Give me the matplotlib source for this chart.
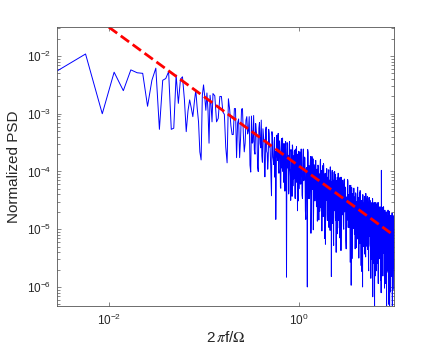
import matplotlib
matplotlib.use('Agg')
import matplotlib.pyplot as plt
import numpy as np
from matplotlib.ticker import FixedLocator, LogLocator, NullLocator, NullFormatter

plt.rcParams['font.family'] = ['Liberation Sans', 'DejaVu Sans']
plt.rcParams['mathtext.fontset'] = 'stix'
plt.rcParams['axes.unicode_minus'] = False

df = 2.84e-3  # frequency step, 2*pi*f/Omega

# log10 of the normalized PSD
# k = 1 .. 44
psd_log_a = [-2.26, -1.965, -3.00, -2.28, -2.60, -2.24, -2.29, -2.30, -2.87, -2.42,
             -2.21, -3.27, -2.42, -2.39, -2.27, -3.27, -3.25, -2.33, -2.82, -2.40,
             -2.36, -2.75, -3.31, -2.95, -2.76, -2.90, -3.05, -2.80, -2.59, -2.90,
             -3.14, -3.66, -3.80, -2.68, -2.50, -2.70, -2.94, -2.64, -2.94, -3.51,
             -2.68, -2.85, -3.14, -2.65]
# k = 46, 50, 54, ...
psd_log_b = [-2.69, -3.08, -2.70, -3.01, -3.85, -2.93, -3.36, -2.91, -3.76, -3.09,
             -3.42, -2.91, -3.66, -3.11, -3.35, -3.05, -4.01, -3.51, -3.03, -3.70,
             -3.31, -3.93, -3.25, -3.51, -3.11, -3.84, -3.38, -4.09, -3.28, -3.65,
             -3.96, -3.27, -3.58, -3.84, -4.42, -3.39, -3.80, -3.49, -4.10, -4.83,
             -3.40, -3.75, -3.34, -4.03, -3.61, -4.27, -3.53, -3.94, -3.42, -3.80,
             -4.19, -3.52, -4.03, -3.62, -5.83, -3.50, -3.94, -3.72, -4.33, -3.48,
             -3.99, -4.50, -3.66, -3.89, -3.54, -4.25, -3.73, -4.09, -3.63, -4.45,
             -3.84, -4.19, -3.57, -4.03, -4.68, -3.71, -3.95, -4.30, -3.71]
# k = 48, 52, 56, ...
psd_log_b2 = [-3.14, -2.70, -2.97, -3.58, -2.74, -3.21, -3.36, -2.91, -3.16, -3.76,
              -2.92, -3.37, -3.51, -3.05, -3.30, -3.89, -3.04, -3.49, -3.63, -3.17,
              -3.41, -4.00, -3.15, -3.59, -3.73, -3.26, -3.51, -4.09, -3.23, -3.68,
              -3.81, -3.34, -3.58, -4.16, -3.31, -3.75, -3.88, -3.41, -3.65, -4.23,
              -3.37, -3.81, -3.94, -3.47, -3.71, -4.29, -3.43, -3.87, -4.00, -3.52,
              -3.76, -4.34, -3.48, -3.92, -4.05, -3.57, -3.81, -4.39, -3.53, -3.96,
              -4.09, -3.62, -3.86, -4.43, -3.57, -4.01, -4.13, -3.66, -3.90, -4.47,
              -3.61, -4.05, -4.17, -3.70, -3.93, -4.51, -3.65, -4.08, -4.21]
# k = 362, 370, 378, ...
psd_log_c = [-3.66, -4.22, -3.82, -4.47, -3.61, -4.12, -3.77, -4.83, -3.93, -6.00,
             -3.67, -4.12, -4.47, -3.87, -5.07, -4.01, -4.31, -3.78, -4.66, -4.11,
             -4.51, -3.81, -4.31, -3.99, -4.86, -3.89, -4.44, -4.04, -4.69, -3.82,
             -4.33, -3.98, -5.03, -4.13, -4.53, -3.86, -4.31, -4.66, -4.06, -5.26,
             -4.20, -4.50, -3.97, -4.85, -4.30, -4.67, -3.97, -4.47, -4.15, -5.02,
             -4.05, -4.60, -5.82, -4.85, -3.98, -4.48, -4.13, -5.18, -4.28, -4.68,
             -4.00, -4.45, -4.80, -4.20, -5.40, -4.33, -4.63, -4.10, -4.98, -4.43,
             -4.80, -4.10, -4.60, -4.28, -5.15, -4.17, -4.72, -4.32, -4.97, -4.10]
# k = 366, 374, 382, ...
psd_log_c2 = [-4.01, -3.61, -4.41, -3.76, -4.16, -3.75, -4.67, -3.95, -4.32, -3.62,
              -4.47, -3.90, -4.22, -3.74, -4.62, -3.74, -4.21, -5.01, -3.88, -4.11,
              -4.21, -3.81, -4.61, -3.96, -4.36, -3.92, -4.84, -4.12, -4.49, -3.79,
              -4.63, -4.06, -4.38, -3.90, -4.78, -3.89, -4.36, -5.16, -4.03, -4.26,
              -4.35, -3.95, -4.75, -4.10, -4.50, -4.05, -4.97, -4.25, -4.62, -3.92,
              -4.75, -4.18, -4.50, -4.02, -4.90, -4.01, -4.48, -5.28, -4.15, -4.38,
              -4.45, -4.05, -4.85, -4.20, -4.60, -4.16, -5.08, -4.36, -4.73, -4.03,
              -4.85, -4.28, -4.60, -4.12, -5.00, -4.10, -4.57, -5.37, -4.24, -4.47]
# k = 1002, 1018, 1034, ...
psd_log_d = [-4.20, -4.75, -4.35, -5.00, -4.13, -4.64, -4.29, -5.34, -4.44, -4.84,
             -4.17, -4.62, -4.97, -4.37, -5.57, -4.51, -5.97, -4.28, -5.16, -4.61,
             -4.99, -4.29, -4.79, -4.47, -5.34, -4.37, -4.92, -4.52, -5.17, -4.30,
             -4.80, -4.45, -5.50, -4.60, -5.00, -4.33, -4.78, -5.13, -4.53, -5.73,
             -4.65, -6.00, -4.42, -5.30, -4.75, -5.13, -4.43, -4.93, -4.61, -5.48,
             -4.50, -5.05, -4.65, -5.30, -4.43, -4.92, -4.57, -5.62, -4.72, -5.12,
             -4.45, -4.90, -5.25, -4.65, -5.85, -4.77, -5.07, -4.54, -5.42, -4.87,
             -6.17, -4.54, -5.04, -4.72, -5.59, -4.61, -6.40, -4.76, -5.41, -4.54,
             -5.02, -4.67, -5.72, -4.82, -5.22, -4.54, -4.99, -5.34, -4.74, -5.94,
             -4.86, -5.16, -4.63, -5.51, -4.96, -5.33, -4.63, -5.13, -4.81, -5.68,
             -6.10, -3.98, -5.09, -5.49, -4.62, -5.11, -4.76, -5.81, -4.91, -5.31,
             -4.62, -5.07, -5.42, -4.82, -6.02, -4.94, -5.24, -4.71, -5.59, -5.04,
             -5.40, -4.70, -5.20, -6.40, -5.75, -4.77, -5.32, -4.92, -5.57, -4.70,
             -5.18, -4.83, -5.88, -6.30, -5.38, -4.69, -5.14, -6.40, -4.89, -6.09,
             -5.01, -5.31, -4.78, -5.66, -5.11, -5.47, -4.77, -5.27, -4.95, -5.82,
             -4.83, -6.40, -4.98, -5.63, -4.76, -5.24, -4.89, -5.44]
# k = 1010, 1026, 1042, ...
psd_log_d2 = [-4.55, -4.15, -4.95, -4.30, -4.70, -4.27, -5.19, -4.47, -4.84, -4.14,
              -4.97, -4.40, -4.72, -4.24, -5.12, -4.24, -4.71, -5.51, -4.38, -4.61,
              -4.69, -4.29, -5.09, -4.44, -4.84, -4.40, -5.32, -4.60, -4.97, -4.27,
              -5.10, -4.53, -4.85, -4.37, -5.25, -4.36, -4.83, -5.63, -4.50, -4.73,
              -4.80, -4.40, -5.20, -4.55, -4.95, -4.51, -5.43, -4.71, -5.08, -4.38,
              -5.20, -4.63, -4.95, -4.47, -5.35, -4.45, -4.92, -5.72, -4.59, -4.82,
              -4.90, -4.50, -5.30, -4.65, -5.05, -4.60, -5.52, -4.80, -5.17, -4.47,
              -5.29, -4.72, -5.04, -4.56, -5.44, -4.54, -5.01, -5.81, -4.68, -4.91,
              -4.97, -4.57, -5.37, -4.72, -5.12, -4.67, -5.59, -4.87, -5.24, -4.54,
              -5.36, -4.79, -5.11, -4.63, -5.51, -4.61, -5.08, -5.88, -4.75, -4.98,
              -5.04, -4.64, -5.44, -4.79, -5.19, -4.74, -5.66, -4.94, -5.31, -4.61,
              -5.42, -4.85, -5.17, -4.69, -5.57, -4.67, -5.14, -5.94, -4.81, -5.04,
              -5.10, -4.70, -5.50, -4.85, -5.25, -4.80, -5.72, -5.00, -5.37, -4.67,
              -5.48, -4.91, -5.23, -4.75, -5.63, -4.72, -5.19, -5.99, -4.86, -5.09,
              -5.16, -4.76, -5.56, -4.91, -5.31, -4.85, -5.77, -5.05, -5.42, -4.72,
              -5.53, -4.96, -5.28, -4.80, -5.68, -4.78, -5.25, -6.04]

# red dashed power-law guide
fit_f = [1e-2, 10.0]
fit_psd = [3.16e-2, 7.9e-6]

k = np.concatenate([np.arange(1, 45),
                    46 + 4 * np.arange(len(psd_log_b)),
                    48 + 4 * np.arange(len(psd_log_b2)),
                    362 + 8 * np.arange(len(psd_log_c)),
                    366 + 8 * np.arange(len(psd_log_c2)),
                    1002 + 16 * np.arange(len(psd_log_d)),
                    1010 + 16 * np.arange(len(psd_log_d2))])
logp = np.concatenate([psd_log_a, psd_log_b, psd_log_b2, psd_log_c,
                       psd_log_c2, psd_log_d, psd_log_d2])
order = np.argsort(k)
freq = df * k[order]
psd = 10.0 ** logp[order]

fig = plt.figure(figsize=(4.36, 3.49), dpi=100)
ax = fig.add_axes([0.1307, 0.1232, 0.773, 0.7994])

ax.loglog(freq, psd, color='b', lw=0.7)
ax.loglog(fit_f, fit_psd, 'r--', lw=2)

ax.set_xlim(2.84e-3, 10.1)
ax.set_ylim(4.68e-7, 3.18e-2)

ax.xaxis.set_major_locator(FixedLocator([1e-2, 1e0]))
ax.xaxis.set_minor_locator(NullLocator())
ax.yaxis.set_major_locator(LogLocator(base=10, numticks=12))
ax.yaxis.set_minor_locator(LogLocator(base=10, subs=np.arange(2, 10), numticks=12))
ax.yaxis.set_minor_formatter(NullFormatter())

axcol = '#262626'
for s in ax.spines.values():
    s.set_color('#555555')
    s.set_linewidth(0.6)
ax.tick_params(which='both', direction='in', top=True, right=True,
               color='#555555', width=0.5, labelcolor=axcol, labelsize=8.5)
ax.tick_params(which='major', length=3)
ax.tick_params(which='minor', length=2)
ax.tick_params(axis='x', pad=5)
ax.tick_params(axis='y', pad=4)

ax.set_xlabel(r'2$\,\pi$f/$\Omega$', fontsize=11, color=axcol, labelpad=1)
ax.set_ylabel('Normalized PSD', fontsize=11, color=axcol, labelpad=4)

fig.savefig('out.png', dpi=100)
